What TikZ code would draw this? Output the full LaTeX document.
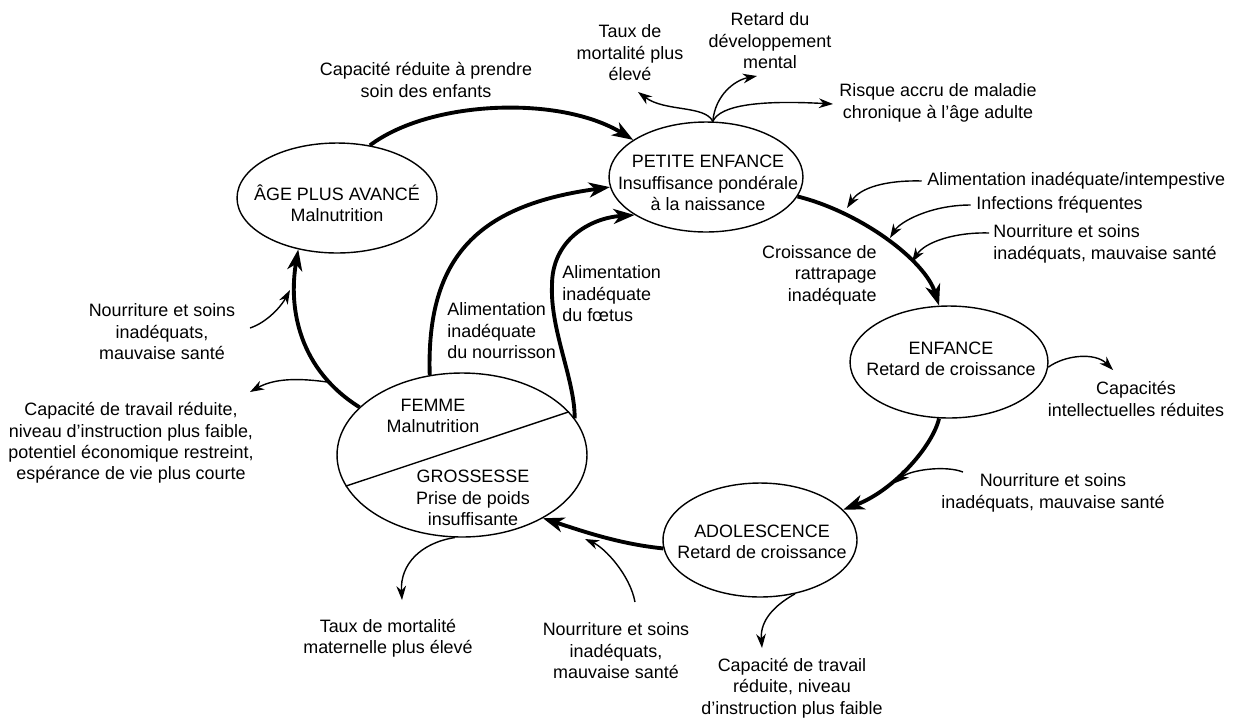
\documentclass[tikz,border=0pt]{standalone}
\usepackage{fontspec}
\setmainfont{Liberation Sans}
\usetikzlibrary{arrows.meta,shapes.geometric}
\begin{document}
\begin{tikzpicture}[x=0.02cm,y=-0.02cm,
  every node/.style={font=\fontsize{10.2}{12.2}\selectfont, inner sep=0pt},
  stage/.style={draw, ellipse, line width=0.8pt},
  bigarrow/.style={line width=2.2pt, -{Stealth[length=12pt,width=8.5pt,inset=3.5pt]}},
  smallarrow/.style={line width=0.8pt, -{Stealth[length=8pt,width=5.5pt,inset=2.5pt]}},
  lbl/.style={align=center}]
\useasboundingbox (0,0) rectangle (1244,718);

% stages
\node[stage, minimum width=3.88cm, minimum height=2.2cm] (pe) at (706,177) {};
\node[stage, minimum width=4cm, minimum height=2.2cm] (ag) at (337,198) {};
\node[stage, minimum width=3.96cm, minimum height=2.24cm] (en) at (949,362) {};
\node[stage, minimum width=3.88cm, minimum height=2.28cm] (ad) at (760,540) {};
\node[stage, minimum width=5cm, minimum height=3.28cm] (fe) at (462,455) {};
\draw[line width=0.8pt] (fe.195) -- (fe.22);

% stage texts
\node[lbl] (agt) at (337,203) {ÂGE PLUS AVANCÉ\\Malnutrition};
\node[lbl] (pet) at (708,183) {PETITE ENFANCE\\Insuffisance pondérale\\à la naissance};
\node[lbl] (ent) at (951,359) {ENFANCE\\Retard de croissance};
\node[lbl] (adt) at (762,542) {ADOLESCENCE\\Retard de croissance};
\node[lbl] (fet) at (433,416) {FEMME\\Malnutrition};
\node[lbl] (grt) at (473,498) {GROSSESSE\\Prise de poids\\insuffisante};

% outer labels
\node[lbl] (cap) at (426,80) {Capacité réduite à prendre\\soin des enfants};
\node[lbl] (taux) at (630,53) {Taux de\\mortalité plus\\élevé};
\node[lbl] (retard) at (770,41) {Retard du\\développement\\mental};
\node[lbl] (risque) at (938,103) {Risque accru de maladie\\chronique à l’âge adulte};
\node[anchor=west] (alim) at (927,181) {Alimentation inadéquate/intempestive};
\node[anchor=west] (infect) at (976,205) {Infections fréquentes};
\node[anchor=west, align=left] (nour1) at (993,244) {Nourriture et soins\\inadéquats, mauvaise santé};
\node[anchor=east, align=right] (crois) at (877,275) {Croissance de\\rattrapage\\inadéquate};
\node[lbl] (capint) at (1136,399) {Capacités\\intellectuelles réduites};
\node[lbl] (nour2) at (1053,493) {Nourriture et soins\\inadéquats, mauvaise santé};
\node[lbl] (captr) at (792,688) {Capacité de travail\\réduite, niveau\\d’instruction plus faible};
\node[lbl] (nour3) at (616,651) {Nourriture et soins\\inadéquats,\\mauvaise santé};
\node[lbl] (tauxm) at (388,638) {Taux de mortalité\\maternelle plus élevé};
\node[lbl] (capl) at (131,443) {Capacité de travail réduite,\\niveau d’instruction plus faible,\\potentiel économique restreint,\\espérance de vie plus courte};
\node[lbl] (nourl) at (162,332) {Nourriture et soins\\inadéquats,\\mauvaise santé};
\node[anchor=west, align=left] (alnour) at (447,331) {Alimentation\\inadéquate\\du nourrisson};
\node[anchor=west, align=left] (alfoe) at (562,294) {Alimentation\\inadéquate\\du fœtus};

% main cycle
\draw[bigarrow] (ag.58) .. controls (430,100) and (560,95) .. (pe.153);
\draw[bigarrow] (fe.112) .. controls (426,255) and (480,205) .. (pe.186);
\draw[bigarrow] (fe.18) .. controls (575,380) and (550,330) .. (552,285) .. controls (552,240) and (590,218) .. (pe.208);
\draw[bigarrow] (fe.155) .. controls (300,370) and (288,310) .. coordinate[pos=0.2] (m0) (ag.233);
\draw[bigarrow] (pe.-12) .. controls (860,212) and (925,260) .. (en.100);
\draw[bigarrow] (en.-100) .. controls (933,445) and (895,490) .. (ad.20);
\draw[bigarrow] (ad.185) .. controls (620,544) and (585,532) .. (fe.-38);

% free ends
\coordinate (ta) at (638,92);
\coordinate (tb) at (757,76);
\coordinate (tc) at (833,104);
\coordinate (td) at (847,208);
\coordinate (te) at (890,238);
\coordinate (f0) at (989,233);
\coordinate (tf) at (912,262);
\coordinate (tg) at (1113,370);
\coordinate (h0) at (963,472);
\coordinate (th) at (895,483);
\coordinate (ti) at (762,648);
\coordinate (j0) at (635,602);
\coordinate (tj) at (585,539);
\coordinate (tk) at (402,600);
\coordinate (l0) at (250,328);
\coordinate (tl) at (290,290);
\coordinate (tm) at (250,392);

% side effects
\draw[smallarrow] (pe.83) .. controls (705,105) and (665,112) .. (ta);
\draw[smallarrow] (pe.83) .. controls (715,95) and (735,80) .. (tb);
\draw[smallarrow] (pe.83) .. controls (720,105) and (760,100) .. (tc);
\draw[smallarrow] ([xshift=-3pt]alim.west) .. controls (885,180) and (860,188) .. (td);
\draw[smallarrow] ([xshift=-3pt]infect.west) .. controls (930,205) and (900,222) .. (te);
\draw[smallarrow] (f0) .. controls (955,232) and (925,242) .. (tf);
\draw[smallarrow] (en.-3) .. controls (1065,355) and (1095,352) .. (tg);
\draw[smallarrow] (h0) .. controls (945,465) and (910,470) .. (th);
\draw[smallarrow] (ad.-57) .. controls (775,605) and (760,620) .. (ti);
\draw[smallarrow] (j0) .. controls (630,575) and (605,548) .. (tj);
\draw[smallarrow] (fe.-95) .. controls (420,543) and (400,565) .. (tk);
\draw[smallarrow] (l0) .. controls (268,322) and (282,305) .. (tl);
\draw[smallarrow] (m0) .. controls (300,378) and (275,378) .. (tm);
\end{tikzpicture}
\end{document}
